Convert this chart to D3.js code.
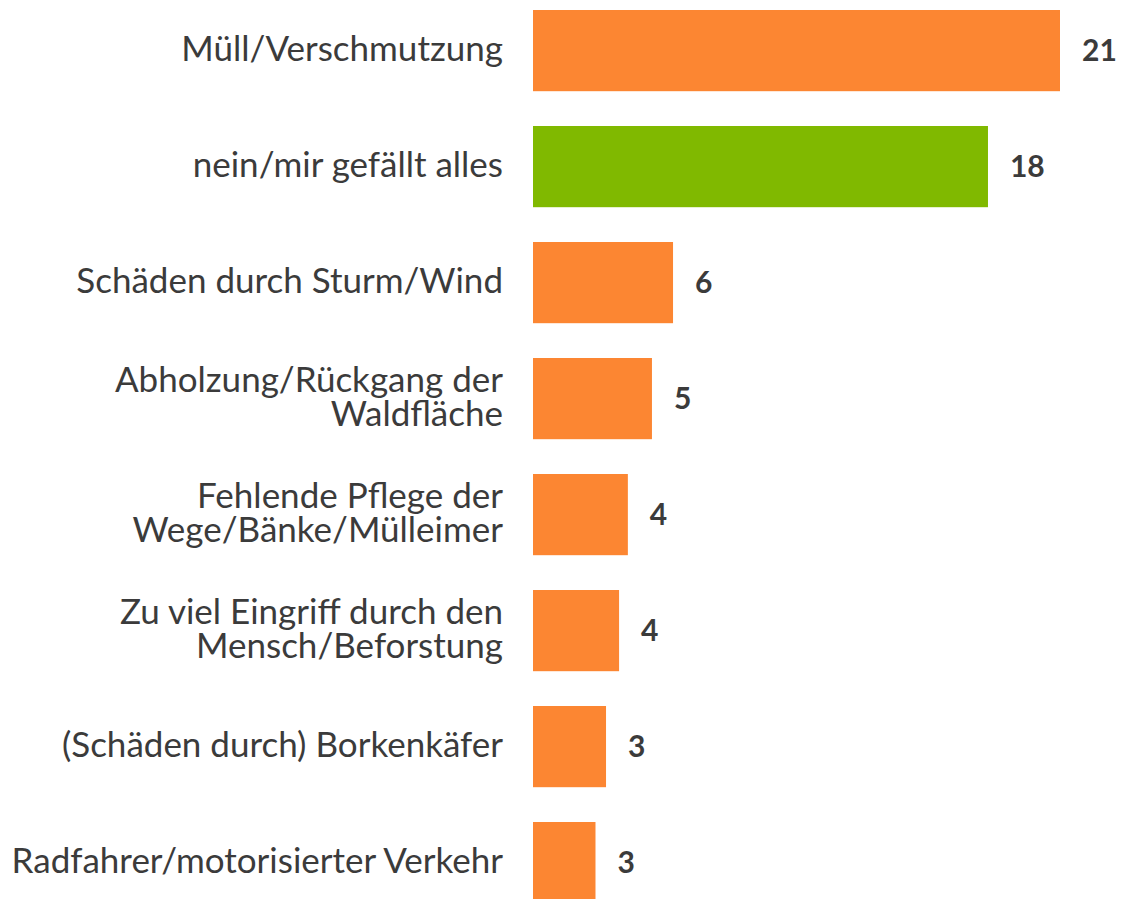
<!DOCTYPE html>
<html>
<head>
<meta charset="utf-8">
<script src="https://cdn.jsdelivr.net/npm/d3@7"></script>
<style>
  html, body { margin: 0; padding: 0; background: #fff; }
  svg { display: block; }
</style>
</head>
<body>
<svg width="1121" height="899"></svg>
<script>
const width = 1121, height = 899;
const marginLeft = 533;
const svg = d3.select("svg");

// categories, top to bottom ("\n" = line break in label)
const categories = [
    "Müll/Verschmutzung",
    "nein/mir gefällt alles",
    "Schäden durch Sturm/Wind",
    "Abholzung/Rückgang der\nWaldfläche",
    "Fehlende Pflege der\nWege/Bänke/Mülleimer",
    "Zu viel Eingriff durch den\nMensch/Beforstung",
    "(Schäden durch) Borkenkäfer",
    "Radfahrer/motorisierter Verkehr"
];
// bar lengths
const values = [21, 18.13, 5.58, 4.74, 3.78, 3.43, 2.91, 2.49];
// numbers printed next to the bars
const shown = [21, 18, 6, 5, 4, 4, 3, 3];
const highlight = "nein/mir gefällt alles";

const orange = "#fc8632";
const green = "#80b900";
const textColor = "#3b3b3b";

const x = d3.scaleLinear()
    .domain([0, 21])
    .range([marginLeft, 1060]);

const y = d3.scaleBand()
    .domain(categories)
    .range([10, 903.2])
    .paddingInner(0.3)
    .paddingOuter(0);

// bars
svg.append("g")
    .selectAll("rect")
    .data(categories)
    .join("rect")
    .attr("x", x(0))
    .attr("y", d => y(d))
    .attr("width", (d, i) => x(values[i]) - x(0))
    .attr("height", y.bandwidth())
    .attr("fill", d => d === highlight ? green : orange);

// value labels
svg.append("g")
    .selectAll("text")
    .data(categories)
    .join("text")
    .attr("x", (d, i) => x(values[i]) + 22)
    .attr("y", d => y(d) + y.bandwidth() / 2)
    .attr("dy", "0.36em")
    .style("font-family", "Lato, sans-serif")
    .style("font-weight", "bold")
    .style("font-size", "30px")
    .style("fill", textColor)
    .text((d, i) => shown[i]);

// category labels
const lineHeight = 34;
const catLabels = svg.append("g")
    .selectAll("text")
    .data(categories)
    .join("text")
    .attr("text-anchor", "end")
    .style("font-family", "Lato, sans-serif")
    .style("font-size", "35px")
    .style("fill", textColor);

catLabels.each(function (d) {
    const lines = d.split("\n");
    const cy = y(d) + y.bandwidth() / 2 - 2;
    const first = cy - (lines.length - 1) * lineHeight / 2;
    d3.select(this).selectAll("tspan")
        .data(lines)
        .join("tspan")
        .attr("x", 503)
        .attr("y", (l, j) => first + j * lineHeight)
        .attr("dy", "0.35em")
        .text(l => l);
});
</script>
</body>
</html>
